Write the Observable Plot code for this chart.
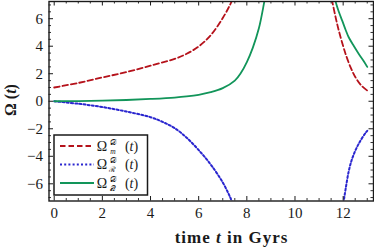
<!DOCTYPE html>
<html><head><meta charset="utf-8">
<script src="https://cdn.jsdelivr.net/npm/d3@7"></script>
<script src="https://cdn.jsdelivr.net/npm/@observablehq/plot@0.6"></script>
<style>
body{margin:0;background:#fff}
svg{display:block}
#chart svg, #chart svg text { font-family: "Liberation Serif", "DejaVu Serif", serif; }
</style>
</head><body>
<div id="chart"></div>
<script>
// ---- data ----
const seriesLabels = ["m", "ℛ", "𝒬"];
const seriesColors = ["#b5121b", "#2a26cf", "#12955a"];

const mTimeLeft  = [0, 1, 2, 3, 4, 5, 5.5, 6, 6.5, 7, 7.3, 7.5];
const mValueLeft = [1.0, 1.33, 1.73, 2.12, 2.59, 3.08, 3.45, 3.98, 4.8, 6.05, 7.0, 7.8];
const mTimeRight  = [11.45, 11.54, 11.7, 11.82, 12.0, 12.1, 12.3, 12.51, 12.75, 13.0];
const mValueRight = [8.0, 7.3, 6.0, 5.13, 4.0, 3.44, 2.5, 1.74, 1.15, 0.78];

const rTimeLeft  = [0, 1, 2, 3, 4, 4.5, 5, 5.5, 6, 6.5, 7, 7.3, 7.5];
const rValueLeft = [0, -0.18, -0.42, -0.75, -1.16, -1.5, -1.95, -2.65, -3.55, -4.6, -5.9, -6.95, -7.8];
const rTimeRight  = [11.97, 12.03, 12.1, 12.23, 12.35, 12.51, 12.7, 12.93, 13.0];
const rValueRight = [-8.0, -7.2, -6.4, -5.1, -4.3, -3.57, -2.92, -2.3, -2.15];

const qTimeLeft  = [0, 1, 2, 3, 4, 5, 5.5, 6, 6.5, 7, 7.5, 7.75, 8, 8.25, 8.5, 8.7, 8.8];
const qValueLeft = [0, 0.01, 0.04, 0.09, 0.17, 0.27, 0.35, 0.47, 0.66, 0.95, 1.5, 2.05, 2.85, 3.9, 5.3, 7.0, 8.0];
const qTimeRight  = [11.62, 11.68, 11.82, 11.96, 12.1, 12.23, 12.45, 12.65, 12.85, 13.0];
const qValueRight = [8.0, 7.3, 6.5, 5.86, 5.2, 4.65, 4.0, 3.44, 2.93, 2.5];

const xMajor = [0, 2, 4, 6, 8, 10, 12];
const yMajor = [-6, -4, -2, 0, 2, 4, 6];
const xMinor = d3.range(0, 13.01, 0.5).filter(v => v % 2 !== 0);
const yMinor = d3.range(-7, 7.01, 0.5).filter(v => v % 2 !== 0);

// ---- build tables ----
const branch = (s, part, times, values) => times.map((t, i) => ({s, part, t, v: values[i]}));
const mData = [...branch(0, "a", mTimeLeft, mValueLeft), ...branch(0, "b", mTimeRight, mValueRight)];
const rData = [...branch(1, "a", rTimeLeft, rValueLeft), ...branch(1, "b", rTimeRight, rValueRight)];
const qData = [...branch(2, "a", qTimeLeft, qValueLeft), ...branch(2, "b", qTimeRight, qValueRight)];

const W = 374, H = 249, mL = 48.5, mR = 1, mT = 1, mB = 48.5;
const xDomain = [-0.216, 13.26];
const yDomain = [-7.25, 7.25];
const kx = (W - mL - mR) / (xDomain[1] - xDomain[0]);
const ky = (H - mT - mB) / (yDomain[1] - yDomain[0]);
const serif = "Liberation Serif";
const ink = "#1a1a1a";

const tickMarks = (len, xs, ys, w) => [
  Plot.ruleX(xs, {x: d => d, y1: yDomain[0], y2: yDomain[0] + len / ky, stroke: ink, strokeWidth: w}),
  Plot.ruleX(xs, {x: d => d, y1: yDomain[1], y2: yDomain[1] - len / ky, stroke: ink, strokeWidth: w}),
  Plot.ruleY(ys, {y: d => d, x1: xDomain[0], x2: xDomain[0] + len / kx, stroke: ink, strokeWidth: w}),
  Plot.ruleY(ys, {y: d => d, x1: xDomain[1], x2: xDomain[1] - len / kx, stroke: ink, strokeWidth: w})
];

const plot = Plot.plot({
  width: W, height: H,
  marginLeft: mL, marginRight: mR, marginTop: mT, marginBottom: mB,
  style: {fontSize: "15px", fontFamily: serif, color: ink, background: "#fff"},
  x: {domain: xDomain},
  y: {domain: yDomain},
  marks: [
    Plot.line(mData, {x: "t", y: "v", z: "part", stroke: seriesColors[0], strokeWidth: 1.8, strokeDasharray: "5.5,3", curve: "catmull-rom", clip: true}),
    Plot.line(rData, {x: "t", y: "v", z: "part", stroke: seriesColors[1], strokeWidth: 2, strokeDasharray: "2,2.2", curve: "catmull-rom", clip: true}),
    Plot.line(qData, {x: "t", y: "v", z: "part", stroke: seriesColors[2], strokeWidth: 1.8, curve: "catmull-rom", clip: true}),
    ...tickMarks(4.5, xMajor, yMajor, 1),
    ...tickMarks(2.5, xMinor, yMinor, 0.9),
    Plot.frame({stroke: ink, strokeWidth: 1.4}),
    Plot.axisX({ticks: xMajor, tickSize: 0, tickPadding: 6, fontSize: 15, fontFamily: serif, label: null}),
    Plot.axisY({ticks: yMajor, tickSize: 0, tickPadding: 6, fontSize: 15, fontFamily: serif, label: null})
  ]
});
document.getElementById("chart").appendChild(plot);

const svg = d3.select(plot);

// x label
const xl = svg.append("text").attr("x", 231.5).attr("y", 243).attr("text-anchor", "middle")
  .attr("font-size", 17).attr("font-weight", "bold").attr("fill", ink)
  .style("letter-spacing", "1px");
xl.append("tspan").text("time ");
xl.append("tspan").attr("font-style", "italic").text("t");
xl.append("tspan").text(" in Gyrs");

// y label
const yl = svg.append("text").attr("transform", "translate(16,100) rotate(-90)").attr("text-anchor", "middle")
  .attr("font-size", 16).attr("font-weight", "bold").attr("fill", ink);
yl.append("tspan").text("Ω (");
yl.append("tspan").attr("font-style", "italic").text("t");
yl.append("tspan").text(")");

// legend
const lg = svg.append("g");
lg.append("rect").attr("x", 54).attr("y", 135).attr("width", 93.5).attr("height", 60)
  .attr("fill", "#fff").attr("stroke", ink).attr("stroke-width", 1.5);
const styles = [
  {w: 1.8, dash: "5.5,3"}, {w: 2, dash: "2,2.2"}, {w: 1.8, dash: null}
];
const rowY = [146, 164.5, 183];
// measure Ω width once
const probe = lg.append("text").attr("font-size", 14).text("Ω");
const wOm = probe.node().getComputedTextLength();
probe.remove();
seriesLabels.forEach((lab, i) => {
  const y = rowY[i];
  lg.append("line").attr("x1", 60).attr("x2", 94).attr("y1", y).attr("y2", y)
    .attr("stroke", seriesColors[i]).attr("stroke-width", styles[i].w)
    .attr("stroke-dasharray", styles[i].dash);
  const x0 = 102;
  const base = y + 4.5;
  const txt = lg.append("text").attr("x", x0).attr("y", base).attr("font-size", 14).attr("fill", ink);
  txt.append("tspan").text("Ω");
  txt.append("tspan").attr("x", x0 + wOm + 0.5).attr("dy", -6).attr("font-size", 7.5).text("𝒟");
  txt.append("tspan").attr("x", x0 + wOm + 0.5).attr("dy", 9).attr("font-size", 7.5)
    .attr("font-style", i === 0 ? "italic" : "normal").text(lab);
  txt.append("tspan").attr("x", 131.5).attr("dy", -3).text("(");
  txt.append("tspan").attr("font-style", "italic").text("t");
  txt.append("tspan").text(")");
});
</script>
</body></html>
